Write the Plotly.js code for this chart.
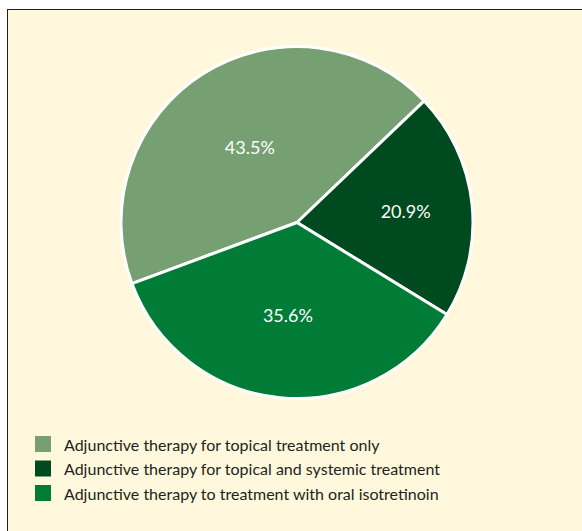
<!DOCTYPE html>
<html>
<head>
<meta charset="utf-8">
<script src="https://cdn.plot.ly/plotly-3.0.1.min.js"></script>
<style>
  html, body { margin: 0; padding: 0; background: #ffffff; }
  #frame { position: absolute; left: 7px; top: 9px; width: 590px; height: 540px;
           background: #fff8dc; border-left: 1.5px solid #231f20; border-top: 1.5px solid #231f20; }
  #chart { position: absolute; left: 0; top: 0; width: 582px; height: 531px; }
</style>
</head>
<body>
<div id="frame"></div>
<div id="chart"></div>
<script>
const categories = [
  "Adjunctive therapy for topical treatment only",
  "Adjunctive therapy for topical and systemic treatment",
  "Adjunctive therapy to treatment with oral isotretinoin"
];
const values = [43.5, 20.9, 35.6];
const colors = ["#76a072", "#004a20", "#007c37"];

const W = 582, H = 531;
const trace = {
  type: "pie",
  labels: categories,
  values: values,
  sort: false,
  direction: "clockwise",
  rotation: 249.7,
  marker: { colors: colors, line: { color: "#ffffff", width: 3 } },
  texttemplate: values.map(v => v.toFixed(1) + "%"),
  textinfo: "text",
  textposition: "inside",
  insidetextorientation: "horizontal",
  textfont: { family: "Lato, sans-serif", size: 18, color: "#ffffff" },
  hoverinfo: "label+percent",
  domain: { x: [0.2079, 0.8127], y: [0.2495, 0.9124] }
};

// custom legend (16px squares) built from categories/colors
const shapes = [], annotations = [];
const legendX0 = 35, legendTextX = 62, legendY0 = 444, legendDY = 24.5, sq = 16;
categories.forEach((c, i) => {
  const cy = legendY0 + i * legendDY;
  shapes.push({
    type: "rect", xref: "paper", yref: "paper",
    x0: legendX0 / W, x1: (legendX0 + sq) / W,
    y0: 1 - (cy + sq / 2) / H, y1: 1 - (cy - sq / 2) / H,
    fillcolor: colors[i], line: { width: 0 }
  });
  annotations.push({
    xref: "paper", yref: "paper", x: legendTextX / W, y: 1 - cy / H,
    xanchor: "left", yanchor: "middle", showarrow: false, text: c,
    font: { family: "Lato, sans-serif", size: 16, color: "#231f20" }
  });
});

const layout = {
  width: W, height: H,
  margin: { l: 0, r: 0, t: 0, b: 0 },
  paper_bgcolor: "rgba(0,0,0,0)",
  plot_bgcolor: "rgba(0,0,0,0)",
  showlegend: false,
  shapes: shapes,
  annotations: annotations
};

Plotly.newPlot("chart", [trace], layout, { displayModeBar: false, staticPlot: true });
</script>
</body>
</html>
